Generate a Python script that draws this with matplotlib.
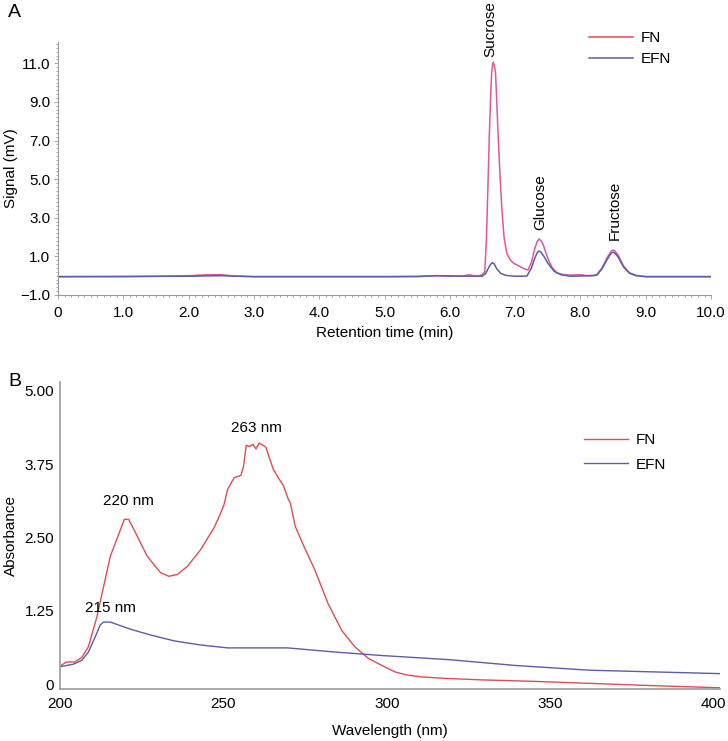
import matplotlib.pyplot as plt
from matplotlib.ticker import MultipleLocator

plt.rcParams['font.family'] = ['Liberation Sans', 'DejaVu Sans']
plt.rcParams['font.size'] = 11

# panel A: HPLC chromatogram
fn_time = [0, 1.0, 1.5, 2.0, 2.3, 2.5, 2.7, 3.0, 4.0, 5.0, 5.5, 5.8, 6.0, 6.2,
           6.3, 6.4, 6.45, 6.5, 6.535, 6.56, 6.585, 6.605, 6.625, 6.64, 6.655,
           6.666, 6.68, 6.70, 6.72, 6.743, 6.77, 6.795, 6.83, 6.871, 6.92,
           6.97, 7.06, 7.15, 7.2, 7.25, 7.3, 7.34, 7.366, 7.4, 7.43, 7.5, 7.56,
           7.64, 7.75, 7.85, 8.0, 8.1, 8.2, 8.25, 8.33, 8.42, 8.47, 8.5, 8.53,
           8.58, 8.66, 8.75, 8.85, 9.0, 10.0]
fn_signal = [-0.05, -0.05, -0.03, 0.0, 0.05, 0.05, -0.02, -0.05, -0.05, -0.05,
             -0.03, 0.0, -0.03, -0.02, 0.05, -0.02, 0.0, 0.05, 0.2, 1.85,
             4.8, 7.3, 9.3, 10.5, 10.95, 11.05, 10.9, 10.5, 8.9, 7.0, 5.1,
             3.55, 2.0, 1.17, 0.85, 0.66, 0.5, 0.34, 0.3, 0.7, 1.4, 1.78, 1.9,
             1.8, 1.6, 0.9, 0.45, 0.14, 0.05, 0.03, 0.05, 0.0, 0.02, 0.05,
             0.4, 1.0, 1.27, 1.33, 1.27, 1.05, 0.5, 0.15, 0.02, -0.05, -0.05]
efn_time = [0, 2.0, 2.5, 3.0, 5.5, 5.8, 6.3, 6.5, 6.55, 6.6, 6.635, 6.656, 6.68,
            6.72, 6.78, 6.85, 7.0, 7.18, 7.25, 7.3, 7.34, 7.366, 7.4, 7.45, 7.5,
            7.6, 7.7, 7.85, 8.2, 8.25, 8.33, 8.42, 8.47, 8.5, 8.53, 8.58, 8.66,
            8.75, 8.85, 9.0, 10.0]
efn_signal = [-0.05, -0.03, 0.0, -0.05, -0.05, 0.0, -0.03, -0.02, 0.12, 0.45,
              0.63, 0.67, 0.6, 0.35, 0.12, 0.02, -0.03, -0.02, 0.4, 0.9, 1.2,
              1.28, 1.2, 0.95, 0.65, 0.22, 0.05, -0.03, 0.0, 0.03, 0.35, 0.9,
              1.16, 1.22, 1.16, 0.95, 0.45, 0.13, 0.0, -0.05, -0.05]
peak_names = ['Sucrose', 'Glucose', 'Fructose']
peak_pos = [(6.62, 11.3), (7.38, 2.36), (8.53, 1.85)]
a_xticks = [0, 1, 2, 3, 4, 5, 6, 7, 8, 9, 10]
a_xlabels = ['0', '1.0', '2.0', '3.0', '4.0', '5.0', '6.0', '7.0', '8.0', '9.0', '10.0']
a_yticks = [-1, 1, 3, 5, 7, 9, 11]
a_ylabels = ['\u22121.0', '1.0', '3.0', '5.0', '7.0', '9.0', '11.0']

# panel B: UV spectrum
fn_wl = [200, 202, 204.5, 206.7, 208.7, 211.3, 215.4, 219.7, 221, 222.6, 226.7,
         230.8, 233.3, 235.9, 239, 243, 247.2, 249.2, 250.2, 251.3, 253.3,
         255.4, 256.2, 257, 258, 259, 260, 261, 263, 264, 265.3, 266.8, 268.4,
         269.9, 270.5, 272, 274.9, 278, 282, 286.2, 290.2, 294.4, 298.5, 302.6,
         306, 310.8, 318, 329, 345, 360, 380, 402]
fn_abs = [0.31, 0.38, 0.38, 0.46, 0.64, 1.15, 2.18, 2.81, 2.81, 2.64, 2.18,
          1.90, 1.84, 1.87, 2.01, 2.29, 2.67, 2.92, 3.06, 3.32, 3.52, 3.56,
          3.72, 4.07, 4.05, 4.09, 4.01, 4.11, 4.04, 3.87, 3.66, 3.52, 3.38,
          3.15, 3.09, 2.69, 2.32, 1.95, 1.38, 0.92, 0.64, 0.44, 0.32, 0.21,
          0.16, 0.125, 0.1, 0.075, 0.05, 0.02, -0.02, -0.06]
efn_wl = [200, 204, 206.7, 208.7, 210.8, 212.3, 213.3, 215.4, 217.9, 221.5,
          227.7, 234.9, 243, 251.3, 269.7, 284, 298.5, 319, 339.5, 362, 403]
efn_abs = [0.30, 0.34, 0.41, 0.55, 0.81, 1.01, 1.06, 1.06, 1.01, 0.94, 0.84,
           0.74, 0.67, 0.62, 0.62, 0.55, 0.49, 0.42, 0.32, 0.24, 0.18]
uv_peaks = ['263 nm', '220 nm', '215 nm']
uv_peak_pos = [(260, 4.37), (221, 3.13), (215.4, 1.30)]
b_xticks = [200, 250, 300, 350, 400]
b_yticks = [0, 1.25, 2.5, 3.75, 5.0]
b_ylabels = ['0', '1.25', '2.50', '3.75', '5.00']

red = '#e04c56'
pink = '#e0589a'
blue = '#5c5ca8'
grey = '#9a9a9a'

fig = plt.figure(figsize=(7.28, 7.41), dpi=100)

ax1 = fig.add_axes([0.0797, 0.6019, 0.897, 0.3414])
ax1.plot(fn_time, fn_signal, color=pink, lw=1.1, label='FN')
ax1.plot(efn_time, efn_signal, color=blue, lw=1.1, label='EFN')
ax1.set_xlim(0, 10)
ax1.set_ylim(-1, 12.1)
ax1.set_xticks(a_xticks)
ax1.set_xticklabels(a_xlabels)
ax1.set_yticks(a_yticks)
ax1.set_yticklabels(a_ylabels)
ax1.xaxis.set_minor_locator(MultipleLocator(0.1))
ax1.yaxis.set_minor_locator(MultipleLocator(0.2))
ax1.tick_params(which='both', color=grey, width=0.6)
ax1.tick_params(which='major', length=3)
ax1.tick_params(which='minor', length=1.5)
ax1.tick_params(axis='x', pad=5)
ax1.tick_params(axis='y', pad=2.5)
for s in ['top', 'right']:
    ax1.spines[s].set_visible(False)
for s in ['left', 'bottom']:
    ax1.spines[s].set_color(grey)
    ax1.spines[s].set_linewidth(0.8)
for name, (x, y) in zip(peak_names, peak_pos):
    ax1.text(x, y, name, rotation=90, ha='center', va='bottom')
ax1.set_xlabel('Retention time (min)', labelpad=4)
ax1.set_ylabel('Signal (mV)')
ax1.yaxis.set_label_coords(-0.061, 0.5)
leg = ax1.legend(loc='upper left', bbox_to_anchor=(0.792, 1.096), frameon=False,
                 handlelength=2.9, handletextpad=0.5, labelspacing=0.45)
leg.get_lines()[0].set_color(red)
fig.text(0.011, 0.995, 'A', fontsize=14, va='top')

ax2 = fig.add_axes([0.0824, 0.0702, 0.9066, 0.4143])
ax2.plot(fn_wl, fn_abs, color=red, lw=1.0, label='FN')
ax2.plot(efn_wl, efn_abs, color=blue, lw=1.0, label='EFN')
ax2.set_xlim(200, 402)
ax2.set_ylim(-0.08, 5.15)
ax2.set_xticks(b_xticks)
ax2.set_yticks(b_yticks)
ax2.set_yticklabels(b_ylabels)
ax2.tick_params(length=0)
ax2.tick_params(axis='x', pad=6)
ax2.tick_params(axis='y', pad=4.3)
for s in ['top', 'right']:
    ax2.spines[s].set_visible(False)
for s in ['left', 'bottom']:
    ax2.spines[s].set_color(grey)
    ax2.spines[s].set_linewidth(1.2)
for name, (x, y) in zip(uv_peaks, uv_peak_pos):
    ax2.text(x, y, name, ha='center', va='center')
ax2.set_xlabel('Wavelength (nm)', labelpad=9)
ax2.set_ylabel('Absorbance')
ax2.yaxis.set_label_coords(-0.064, 0.5)
ax2.legend(loc='upper left', bbox_to_anchor=(0.773, 0.879), frameon=False,
           handlelength=2.9, handletextpad=0.5, labelspacing=0.7)
fig.text(0.011, 0.497, 'B', fontsize=14, va='top')

fig.savefig('out.png', dpi=100)
